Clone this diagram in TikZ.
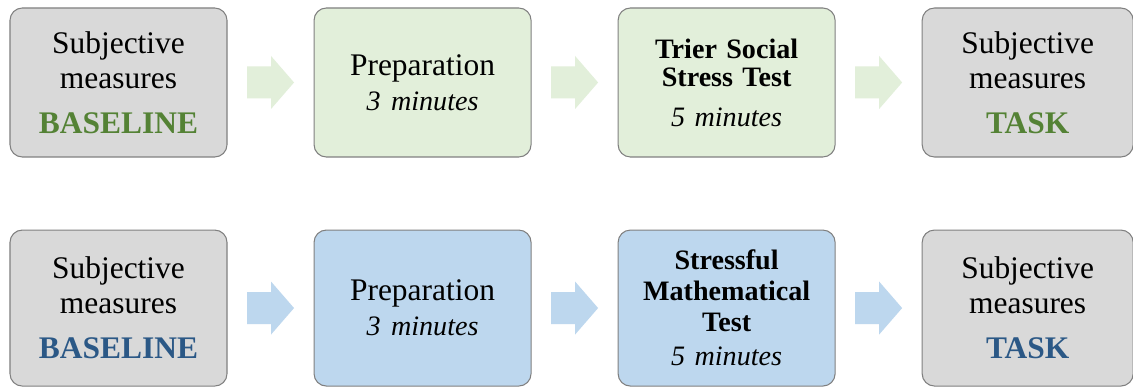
\documentclass[tikz,border=0pt]{standalone}
\usepackage{fontspec}
\setmainfont{Liberation Serif}
\usetikzlibrary{positioning,calc}
\definecolor{edgegrey}{HTML}{808080}
\definecolor{boxgrey}{HTML}{D9D9D9}
\definecolor{leaf}{HTML}{E2EFDA}
\definecolor{ice}{HTML}{BDD7EE}
\definecolor{moss}{HTML}{548235}
\definecolor{deepsea}{HTML}{2B5886}
\tikzset{
  card/.style={draw=edgegrey,fill=#1,rounded corners=7pt,line width=0.6pt,align=center,
    minimum width=4.34cm,minimum height=2.98cm,text width=4.1cm,inner sep=0pt},
  card/.default=boxgrey,
  tall/.style={minimum height=3.12cm},
  narrow/.style={minimum width=4.22cm},
  bigfont/.style={font=\fontsize{17.9}{19.9}\selectfont},
  boldfont/.style={font=\fontsize{16}{#1}\selectfont\bfseries},
}
\newcommand{\duration}[1]{{\normalfont\fontsize{16}{19}\selectfont\itshape #1 minutes}}
\newcommand{\blockarrow}[3]{% from, to, colour
  \fill[#3] ($(#1.east)!0.5!(#2.west)$) ++(-0.47,0.32) -- ++(0.48,0) -- ++(0,0.21) -- ++(0.46,-0.53)
    -- ++(-0.46,-0.53) -- ++(0,0.21) -- ++(-0.48,0) -- cycle;}

\begin{document}
\begin{tikzpicture}[node distance=1.72cm]
  \useasboundingbox[fill=white] (0,0) rectangle (22.66,-7.74);
  % TSST row
  \node[card,bigfont] (base) at (2.37,-1.65) {Subjective\\ measures\\[5.7pt] \textcolor{moss}{\textbf{BASELINE}}};
  \node[card=leaf,bigfont,right=of base] (prep) {Preparation\\ \duration{3}};
  \node[card=leaf,boldfont=15.9pt,right=of prep] (tsst) {Trier Social\\ Stress Test\\[6.9pt] \duration{5}};
  \node[card,narrow,bigfont,right=of tsst] (task) {Subjective\\ measures\\[5.7pt] \textcolor{moss}{\textbf{TASK}}};
  \foreach \a/\b in {base/prep,prep/tsst,tsst/task} {\blockarrow{\a}{\b}{leaf}}
  % math row
  \node[card,tall,bigfont,below=1.44cm of base] (mbase) {Subjective\\ measures\\[5.7pt] \textcolor{deepsea}{\textbf{BASELINE}}};
  \node[card=ice,tall,bigfont,right=of mbase] (mprep) {Preparation\\ \duration{3}};
  \node[card=ice,tall,boldfont=17.6pt,right=of mprep] (smt) {Stressful\\ Mathematical\\ Test\\[1.7pt] \duration{5}};
  \node[card,tall,narrow,bigfont,right=of smt] (mtask) {Subjective\\ measures\\[5.7pt] \textcolor{deepsea}{\textbf{TASK}}};
  \foreach \a/\b in {mbase/mprep,mprep/smt,smt/mtask} {\blockarrow{\a}{\b}{ice}}
\end{tikzpicture}
\end{document}
